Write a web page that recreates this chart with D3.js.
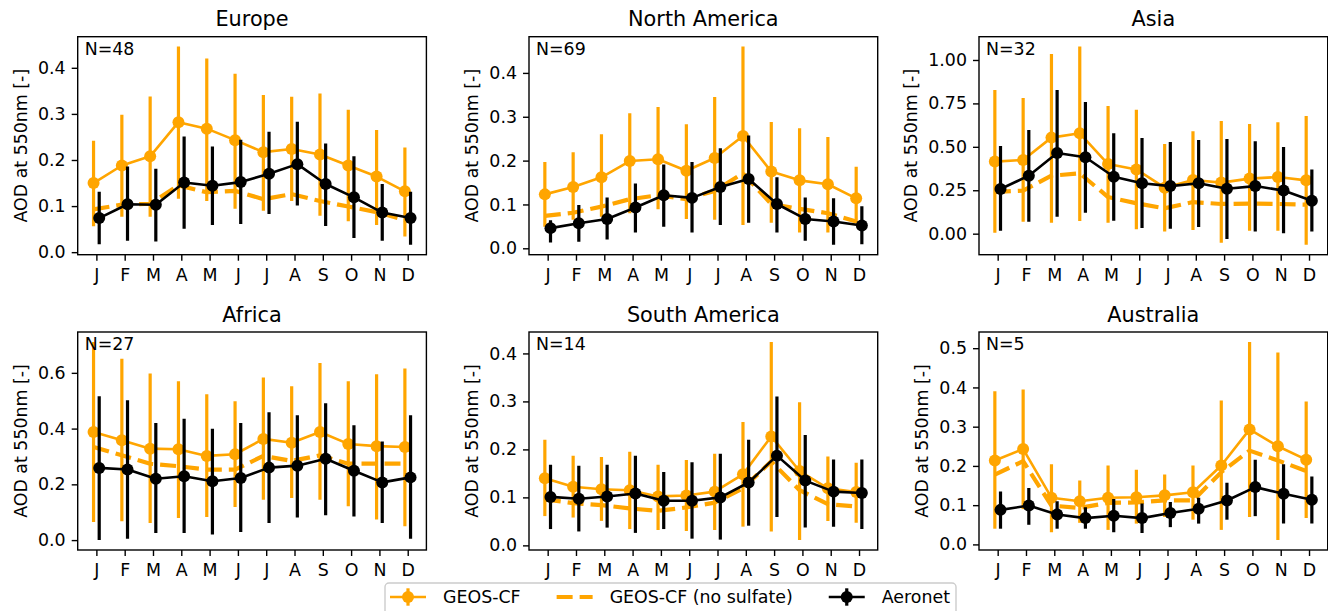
<!DOCTYPE html>
<html><head><meta charset="utf-8">
<script src="https://cdn.jsdelivr.net/npm/d3@7"></script>
<style>
html,body{margin:0;padding:0;background:#fff;}
svg{display:block;font-family:"DejaVu Sans",sans-serif;}
</style></head><body>
<svg id="chart" width="1328" height="611"></svg>
<script>
// ---------------- data ----------------
const months = ["J","F","M","A","M","J","J","A","S","O","N","D"];
const regions = ["Europe","North America","Asia","Africa","South America","Australia"];
const stationCounts = [48, 69, 32, 27, 14, 5];
const yTickValues = [
  [0, 0.1, 0.2, 0.3, 0.4],
  [0, 0.1, 0.2, 0.3, 0.4],
  [0, 0.25, 0.5, 0.75, 1.0],
  [0, 0.2, 0.4, 0.6],
  [0, 0.1, 0.2, 0.3, 0.4],
  [0, 0.1, 0.2, 0.3, 0.4, 0.5]
];
const yTickFormats = [".1f", ".1f", ".2f", ".1f", ".1f", ".1f"];
const legendLabels = ["GEOS-CF", "GEOS-CF (no sulfate)", "Aeronet"];
const yLabel = "AOD at 550nm [-]";

// GEOS-CF mean and error bar bounds (per region, per month)
const geosMean = [
  [0.150,0.188,0.208,0.282,0.268,0.243,0.217,0.224,0.212,0.188,0.164,0.132],
  [0.123,0.140,0.162,0.199,0.203,0.177,0.206,0.256,0.175,0.155,0.146,0.114],
  [0.415,0.424,0.553,0.578,0.401,0.370,0.265,0.309,0.294,0.317,0.326,0.307],
  [0.388,0.358,0.328,0.326,0.302,0.308,0.363,0.349,0.388,0.345,0.337,0.334],
  [0.140,0.122,0.117,0.115,0.102,0.104,0.112,0.148,0.227,0.155,0.119,0.111],
  [0.214,0.243,0.119,0.110,0.119,0.120,0.125,0.133,0.201,0.293,0.250,0.216]
];
const geosLow = [
  [0.056,0.077,0.077,0.116,0.111,0.094,0.090,0.111,0.079,0.067,0.059,0.034],
  [0.049,0.065,0.072,0.080,0.089,0.067,0.065,0.053,0.058,0.036,0.036,0.057],
  [0.006,0.069,0.063,0.073,0.063,0.025,0.012,0.021,-0.052,0.017,0.017,-0.064],
  [0.065,0.068,0.061,0.079,0.083,0.119,0.145,0.151,0.145,0.121,0.074,0.050],
  [0.061,0.058,0.051,0.034,0.032,0.030,0.032,0.039,0.029,0.011,0.051,0.047],
  [0.040,0.090,0.031,0.055,0.037,0.053,0.070,0.063,0.037,0.070,0.011,0.067]
];
const geosHigh = [
  [0.242,0.298,0.338,0.446,0.420,0.387,0.341,0.337,0.344,0.309,0.265,0.227],
  [0.197,0.219,0.260,0.308,0.322,0.283,0.345,0.460,0.288,0.274,0.254,0.186],
  [0.827,0.781,1.035,1.077,0.735,0.714,0.516,0.589,0.649,0.631,0.641,0.678],
  [0.711,0.651,0.598,0.570,0.523,0.498,0.583,0.552,0.635,0.570,0.595,0.616],
  [0.220,0.187,0.184,0.195,0.168,0.178,0.191,0.257,0.424,0.298,0.185,0.172],
  [0.390,0.395,0.204,0.163,0.201,0.190,0.178,0.201,0.367,0.516,0.489,0.364]
];
// GEOS-CF without sulfate (mean only)
const noSulfateMean = [
  [0.093,0.103,0.105,0.145,0.130,0.133,0.115,0.126,0.111,0.099,0.087,0.070],
  [0.074,0.081,0.095,0.112,0.121,0.112,0.131,0.171,0.101,0.090,0.080,0.061],
  [0.240,0.248,0.334,0.347,0.211,0.175,0.146,0.182,0.171,0.173,0.171,0.167],
  [0.334,0.304,0.274,0.265,0.253,0.253,0.302,0.284,0.304,0.274,0.274,0.274],
  [0.096,0.088,0.084,0.077,0.072,0.079,0.089,0.119,0.175,0.115,0.086,0.081],
  [0.178,0.212,0.099,0.093,0.106,0.107,0.112,0.112,0.184,0.239,0.214,0.187]
];
// Aeronet mean and error bar bounds
const aeronetMean = [
  [0.074,0.104,0.103,0.151,0.144,0.152,0.170,0.191,0.148,0.119,0.086,0.074],
  [0.046,0.057,0.067,0.093,0.121,0.115,0.140,0.158,0.101,0.067,0.061,0.052],
  [0.257,0.334,0.464,0.440,0.328,0.290,0.274,0.290,0.259,0.274,0.248,0.190],
  [0.259,0.253,0.220,0.229,0.211,0.223,0.260,0.267,0.292,0.249,0.207,0.225],
  [0.101,0.097,0.102,0.108,0.093,0.093,0.100,0.131,0.187,0.135,0.112,0.109],
  [0.088,0.099,0.076,0.067,0.073,0.067,0.080,0.091,0.112,0.146,0.129,0.114]
];
const aeronetLow = [
  [0.017,0.025,0.023,0.051,0.059,0.061,0.083,0.101,0.057,0.031,0.025,0.016],
  [0.013,0.015,0.020,0.036,0.049,0.036,0.053,0.058,0.036,0.017,0.008,0.009],
  [0.017,0.069,0.098,0.121,0.075,0.033,0.029,0.038,-0.031,0.012,0.002,0.012],
  [0.000,0.005,0.025,0.025,0.020,0.029,0.061,0.081,0.089,0.085,0.061,0.005],
  [0.034,0.029,0.037,0.026,0.034,0.014,0.012,0.041,0.059,0.037,0.039,0.034],
  [0.040,0.050,0.040,0.040,0.031,0.029,0.044,0.053,0.063,0.072,0.053,0.053]
];
const aeronetHigh = [
  [0.131,0.186,0.181,0.251,0.229,0.244,0.261,0.283,0.236,0.208,0.148,0.131],
  [0.064,0.099,0.116,0.148,0.191,0.197,0.228,0.257,0.162,0.116,0.114,0.096],
  [0.505,0.597,0.827,0.758,0.578,0.551,0.528,0.539,0.545,0.532,0.499,0.370],
  [0.516,0.502,0.420,0.435,0.399,0.420,0.459,0.448,0.491,0.412,0.354,0.448],
  [0.168,0.166,0.168,0.187,0.153,0.173,0.191,0.220,0.310,0.230,0.179,0.179],
  [0.135,0.144,0.110,0.095,0.116,0.104,0.108,0.119,0.157,0.216,0.204,0.173]
];

// ---------------- layout / style ----------------
const colLeft = [77.7, 529, 979], rowTop = [36.7, 332];
const pw = 348.7, ph = 218;
const ORANGE = "#FFA500", BLACK = "#000000";
const FS = 17.4, TFS = 20.8;
const LW = 2.6, ELW = 3.2, DLW = 4.2, MR = 6;
const SHIFT = 0.1;

const svg = d3.select("#chart");
svg.append("rect").attr("width", 1328).attr("height", 611).attr("fill", "#fff");
const defs = svg.append("defs");

regions.forEach((name, i) => {
  const left = colLeft[i % 3], top = rowTop[Math.floor(i / 3)];
  const g = svg.append("g").attr("transform", `translate(${left},${top})`);
  const xmin = 1 - SHIFT, xmax = months.length + SHIFT, xr = xmax - xmin;
  const x = d3.scaleLinear().domain([xmin - 0.05 * xr, xmax + 0.05 * xr]).range([0, pw]);
  const all = [].concat(geosLow[i], geosHigh[i], geosMean[i], noSulfateMean[i],
                        aeronetLow[i], aeronetHigh[i], aeronetMean[i]);
  const lo = d3.min(all), hi = d3.max(all), r = hi - lo;
  const y = d3.scaleLinear().domain([lo - 0.05 * r, hi + 0.05 * r]).range([ph, 0]);

  defs.append("clipPath").attr("id", "clip" + i)
    .append("rect").attr("width", pw).attr("height", ph);

  const plot = g.append("g").attr("clip-path", `url(#clip${i})`);
  const idx = d3.range(months.length);

  function errSeries(mean, low, high, color, dx) {
    const s = plot.append("g");
    s.selectAll("line.err").data(idx).join("line")
      .attr("x1", k => x(k + 1 + dx)).attr("x2", k => x(k + 1 + dx))
      .attr("y1", k => y(low[k])).attr("y2", k => y(high[k]))
      .attr("stroke", color).attr("stroke-width", ELW);
    s.append("path")
      .attr("d", d3.line().x(k => x(k + 1 + dx)).y(k => y(mean[k]))(idx))
      .attr("fill", "none").attr("stroke", color).attr("stroke-width", LW)
      .attr("stroke-linejoin", "round");
    s.selectAll("circle").data(idx).join("circle")
      .attr("cx", k => x(k + 1 + dx)).attr("cy", k => y(mean[k]))
      .attr("r", MR).attr("fill", color);
  }

  errSeries(geosMean[i], geosLow[i], geosHigh[i], ORANGE, -SHIFT);
  plot.append("path")
    .attr("d", d3.line().x(k => x(k + 1 - SHIFT)).y(k => y(noSulfateMean[i][k]))(idx))
    .attr("fill", "none").attr("stroke", ORANGE).attr("stroke-width", DLW)
    .attr("stroke-dasharray", "16,7").attr("stroke-linejoin", "round");
  errSeries(aeronetMean[i], aeronetLow[i], aeronetHigh[i], BLACK, SHIFT);

  // axes
  const yAxis = d3.axisLeft(y).tickValues(yTickValues[i])
    .tickFormat(d3.format(yTickFormats[i])).tickSize(6).tickPadding(6);
  const ya = g.append("g").call(yAxis);
  const xAxis = d3.axisBottom(x).tickValues(idx.map(k => k + 1))
    .tickFormat(d => months[d - 1]).tickSize(6).tickPadding(7.5);
  const xa = g.append("g").attr("transform", `translate(0,${ph})`).call(xAxis);
  [ya, xa].forEach(a => {
    a.select(".domain").remove();
    a.selectAll("line").attr("stroke", "#000").attr("stroke-width", 1.4);
    a.selectAll("text").attr("fill", "#000").attr("font-size", FS)
      .attr("font-family", '"DejaVu Sans", sans-serif');
  });

  g.append("rect").attr("width", pw).attr("height", ph)
    .attr("fill", "none").attr("stroke", "#000").attr("stroke-width", 1.4);

  // title
  g.append("text").attr("x", pw / 2).attr("y", -10.5).attr("text-anchor", "middle")
    .attr("font-size", TFS).attr("fill", "#000").text(name);
  // N label
  g.append("text").attr("x", 7).attr("y", 18).attr("font-size", FS)
    .attr("fill", "#000").text("N=" + stationCounts[i]);

  // y label
  let maxW = 0;
  ya.selectAll("text").each(function () { maxW = Math.max(maxW, this.getComputedTextLength()); });
  const lx = -(6 + 6 + maxW + 11);
  g.append("text").attr("transform", `translate(${lx},${ph / 2}) rotate(-90)`)
    .attr("text-anchor", "middle").attr("font-size", FS).attr("fill", "#000").text(yLabel);
});

// ---------------- legend ----------------
const leg = svg.append("g");
const legTop = 583, legMid = 597;
const box = leg.append("rect").attr("x", 385).attr("y", legTop).attr("height", 45)
  .attr("rx", 4).attr("fill", "#fff").attr("fill-opacity", 0.8)
  .attr("stroke", "#cccccc").attr("stroke-width", 1.4);
let cx = 390;
const HL = 36, TP = 17, CS = 36;
legendLabels.forEach((lab, j) => {
  const hs = leg.append("g");
  if (j === 1) {
    hs.append("line").attr("x1", cx).attr("x2", cx + HL).attr("y1", legMid).attr("y2", legMid)
      .attr("stroke", ORANGE).attr("stroke-width", DLW).attr("stroke-dasharray", "16,7");
  } else {
    const col = j === 0 ? ORANGE : BLACK;
    hs.append("line").attr("x1", cx).attr("x2", cx + HL).attr("y1", legMid).attr("y2", legMid)
      .attr("stroke", col).attr("stroke-width", LW);
    hs.append("line").attr("x1", cx + HL / 2).attr("x2", cx + HL / 2)
      .attr("y1", legMid - 8.7).attr("y2", legMid + 8.7)
      .attr("stroke", col).attr("stroke-width", ELW);
    hs.append("circle").attr("cx", cx + HL / 2).attr("cy", legMid).attr("r", MR).attr("fill", col);
  }
  const t = leg.append("text").attr("x", cx + HL + TP).attr("y", legMid).attr("dy", "0.36em")
    .attr("font-size", FS).attr("fill", "#000").text(lab);
  const w = t.node().getComputedTextLength();
  cx = cx + HL + TP + w + CS;
});
box.attr("width", (cx - 36 + 6) - 385);
</script>
</body></html>
